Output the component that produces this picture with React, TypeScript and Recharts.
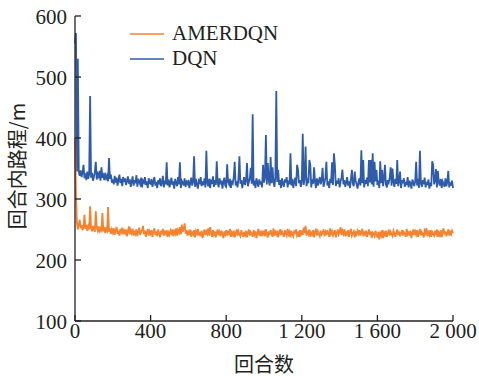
import React from "react";
import { LineChart, Line, XAxis, YAxis, Legend } from "recharts";

// episodes sampled every 5 steps, 0..2000
const STEP = 5;

const dqn = [
  555, 572, 345, 530, 345, 338, 347, 336, 344, 356, 334, 342, 331, 345, 333, 340, 469, 335, 343, 330,
  336, 344, 361, 332, 341, 337, 346, 330, 352, 335, 339, 331, 343, 334, 338, 329, 367, 333, 340, 327,
  332, 324, 338, 327, 335, 322, 331, 340, 326, 333, 321, 336, 328, 334, 323, 330, 337, 325, 332, 320,
  329, 337, 322, 331, 326, 339, 320, 333, 328, 324, 335, 319, 330, 327, 336, 323, 329, 318, 334, 326,
  325, 333, 320, 329, 336, 322, 328, 318, 331, 327, 334, 321, 326, 338, 319, 330, 324, 360, 322, 332,
  319, 327, 335, 323, 329, 317, 333, 326, 321, 336, 324, 360, 318, 330, 327, 322, 334, 320, 328, 325,
  331, 318, 326, 335, 322, 328, 370, 320, 333, 324, 317, 330, 327, 336, 321, 329, 323, 334, 319, 379,
  326, 321, 333, 318, 329, 325, 337, 320, 331, 323, 362, 327, 319, 334, 324, 330, 317, 328, 335, 322,
  320, 357, 328, 324, 333, 318, 330, 326, 336, 361, 322, 329, 319, 334, 370, 325, 331, 318, 327, 336,
  323, 330, 359, 321, 328, 334, 351, 325, 439, 322, 330, 318, 334, 327, 320, 332, 324, 329, 319, 356,
  327, 335, 405, 324, 359, 331, 322, 369, 326, 352, 329, 320, 335, 477, 328, 348, 323, 331, 318, 334,
  325, 320, 332, 327, 336, 319, 330, 324, 375, 322, 333, 318, 328, 335, 321, 356, 348, 326, 331, 320,
  329, 407, 323, 334, 386, 321, 330, 326, 364, 356, 319, 332, 325, 352, 328, 318, 334, 322, 329, 336,
  324, 331, 351, 320, 327, 335, 361, 322, 329, 318, 333, 326, 360, 323, 375, 356, 321, 330, 325, 334,
  319, 328, 335, 348, 324, 331, 320, 327, 336, 322, 329, 318, 333, 348, 325, 321, 345, 330, 324, 317,
  328, 334, 322, 380, 326, 364, 319, 331, 325, 335, 321, 364, 327, 364, 324, 375, 320, 361, 329, 348,
  323, 330, 318, 362, 326, 348, 321, 333, 356, 324, 319, 331, 327, 335, 352, 322, 350, 328, 320, 333,
  325, 364, 321, 329, 345, 318, 331, 326, 334, 320, 328, 323, 336, 319, 330, 325, 317, 332, 327, 321,
  329, 361, 322, 333, 318, 379, 326, 320, 331, 324, 335, 319, 328, 323, 332, 317, 327, 321, 362, 356,
  324, 330, 349, 319, 346, 327, 322, 333, 318, 329, 325, 320, 334, 321, 328, 346, 319, 327, 322, 330,
  318,
];

const amerdqn = [
  400, 310, 262, 250, 258, 266, 252, 257, 249, 254, 274, 251, 258, 248, 255, 250, 288, 253, 247, 256,
  251, 246, 280, 253, 248, 255, 245, 252, 249, 277, 247, 254, 244, 251, 248, 287, 246, 252, 243, 250,
  245, 252, 241, 249, 254, 243, 248, 240, 251, 246, 253, 242, 248, 244, 250, 239, 247, 255, 242, 249,
  244, 251, 240, 248, 243, 250, 239, 247, 253, 241, 246, 249, 256, 242, 248, 238, 245, 251, 240, 247,
  243, 249, 238, 246, 252, 241, 247, 239, 250, 244, 237, 248, 242, 251, 240, 246, 243, 249, 238, 245,
  241, 248, 244, 250, 239, 247, 243, 252, 240, 249, 245, 254, 242, 258, 246, 251, 260, 243, 249, 240,
  246, 241, 250, 238, 245, 242, 249, 237, 247, 243, 251, 240, 246, 239, 248, 236, 244, 250, 241, 247,
  243, 252, 240, 254, 245, 238, 249, 242, 247, 237, 245, 250, 241, 246, 239, 248, 243, 236, 247, 242,
  249, 240, 246, 243, 251, 238, 245, 241, 248, 237, 244, 250, 240, 247, 242, 239, 249, 243, 238, 246,
  241, 248, 237, 245, 250, 240, 246, 243, 238, 249, 242, 247, 236, 244, 251, 240, 245, 239, 248, 242,
  246, 239, 250, 243, 237, 247, 241, 249, 244, 238, 252, 240, 246, 242, 248, 237, 245, 250, 241, 247,
  243, 238, 249, 244, 240, 251, 242, 246, 237, 248, 243, 239, 247, 245, 250, 240, 244, 238, 249, 242,
  246, 241, 253, 244, 256, 240, 248, 243, 250, 238, 245, 242, 249, 237, 246, 251, 240, 247, 243, 239,
  248, 242, 245, 250, 239, 246, 241, 249, 244, 238, 252, 243, 247, 240, 245, 249, 237, 244, 250, 242,
  246, 254, 241, 248, 243, 250, 239, 245, 242, 249, 238, 246, 251, 240, 244, 247, 237, 245, 242, 248,
  243, 249, 240, 246, 251, 239, 245, 242, 248, 238, 244, 250, 241, 247, 236, 245, 243, 239, 248, 242,
  237, 246, 234, 244, 240, 249, 236, 245, 241, 248, 238, 243, 250, 240, 246, 242, 239, 248, 244, 238,
  245, 250, 241, 247, 239, 244, 249, 240, 246, 243, 238, 251, 242, 245, 240, 248, 236, 244, 250, 241,
  247, 242, 249, 238, 245, 251, 240, 246, 243, 237, 248, 244, 252, 239, 245, 241, 249, 238, 246, 243,
  240, 248, 243, 250, 238, 245, 241, 249, 237, 246, 252, 242, 247, 239, 244, 250, 240, 246, 242, 248,
  244,
];

const xTicks = [0, 400, 800, 1200, 1600, 2000];
const xTickLabels = ["0", "400", "800", "1 200", "1 600", "2 000"];
const yTicks = [100, 200, 300, 400, 500, 600];

const ORANGE = "#f5822f";
const BLUE = "#2f5ca9";
const INK = "#231f20";
const SERIF = '"Liberation Serif", "Times New Roman", serif';
const CJK = '"Noto Sans CJK SC", sans-serif';

const data = dqn.map((v, i) => ({ ep: i * STEP, dqn: v, amerdqn: amerdqn[i] }));

const legendItems = [
  { name: "AMERDQN", color: ORANGE },
  { name: "DQN", color: BLUE },
];

const YTick = (props: any) => {
  const { x, y, payload } = props;
  return (
    <g>
      <line x1={x} x2={x + 6} y1={y} y2={y} stroke={INK} strokeWidth={1.3} />
      <text x={x - 8} y={y + 8} textAnchor="end" fontSize={21} fontFamily={SERIF} fill={INK}>
        {payload.value}
      </text>
    </g>
  );
};

const XTick = (props: any) => {
  const { x, y, payload } = props;
  const idx = xTicks.indexOf(payload.value);
  return (
    <g>
      <line x1={x} x2={x} y1={y} y2={y - 6} stroke={INK} strokeWidth={1.3} />
      <text x={x} y={y + 17} textAnchor="middle" fontSize={21} fontFamily={SERIF} fill={INK}>
        {idx >= 0 ? xTickLabels[idx] : payload.value}
      </text>
    </g>
  );
};

const renderLegend = () => (
  <div style={{ display: "flex", flexDirection: "column" }}>
    {legendItems.map((it) => (
      <div key={it.name} style={{ display: "flex", alignItems: "center", height: 25 }}>
        <svg width={34} height={4}>
          <line x1={0} x2={34} y1={2} y2={2} stroke={it.color} strokeWidth={1.6} />
        </svg>
        <span style={{ marginLeft: 8, fontSize: 21, fontFamily: SERIF, color: INK, lineHeight: "25px" }}>
          {it.name}
        </span>
      </div>
    ))}
  </div>
);

export default function App() {
  return (
    <div style={{ position: "absolute", left: 0, top: 0, width: 479, height: 376, background: "#fff" }}>
      <LineChart width={479} height={376} data={data} margin={{ top: 16, right: 26, bottom: 0, left: 0 }}>
        <XAxis
          dataKey="ep"
          type="number"
          domain={[0, 2000]}
          ticks={xTicks}
          interval={0}
          height={55}
          tickSize={0}
          tickMargin={0}
          tickLine={false}
          axisLine={{ stroke: INK, strokeWidth: 1.3 }}
          tick={<XTick />}
          label={{
            content: (p: any) => {
              const vb = p.viewBox || {};
              return (
                <text
                  x={vb.x + vb.width / 2}
                  y={363}
                  textAnchor="middle"
                  dominantBaseline="central"
                  fontSize={20}
                  fontFamily={CJK}
                  fill={INK}
                >
                  回合数
                </text>
              );
            },
          }}
        />
        <YAxis
          type="number"
          domain={[100, 600]}
          ticks={yTicks}
          interval={0}
          width={75}
          tickSize={0}
          tickMargin={0}
          tickLine={false}
          axisLine={{ stroke: INK, strokeWidth: 1.3 }}
          tick={<YTick />}
          label={{
            content: () => (
              <text
                x={16}
                y={166}
                transform="rotate(-90 16 166)"
                textAnchor="middle"
                dominantBaseline="central"
                fontSize={20}
                fontFamily={CJK}
                fill={INK}
              >
                回合内路程/m
              </text>
            ),
          }}
        />
        <Legend
          layout="horizontal"
          verticalAlign="middle"
          align="center"
          content={renderLegend}
          wrapperStyle={{ left: 130, top: 21, width: "auto", height: "auto" }}
        />
        <Line
          type="linear"
          dataKey="dqn"
          name="DQN"
          stroke={BLUE}
          strokeWidth={1.8}
          dot={false}
          isAnimationActive={false}
        />
        <Line
          type="linear"
          dataKey="amerdqn"
          name="AMERDQN"
          stroke={ORANGE}
          strokeWidth={1.8}
          dot={false}
          isAnimationActive={false}
        />
      </LineChart>
    </div>
  );
}
